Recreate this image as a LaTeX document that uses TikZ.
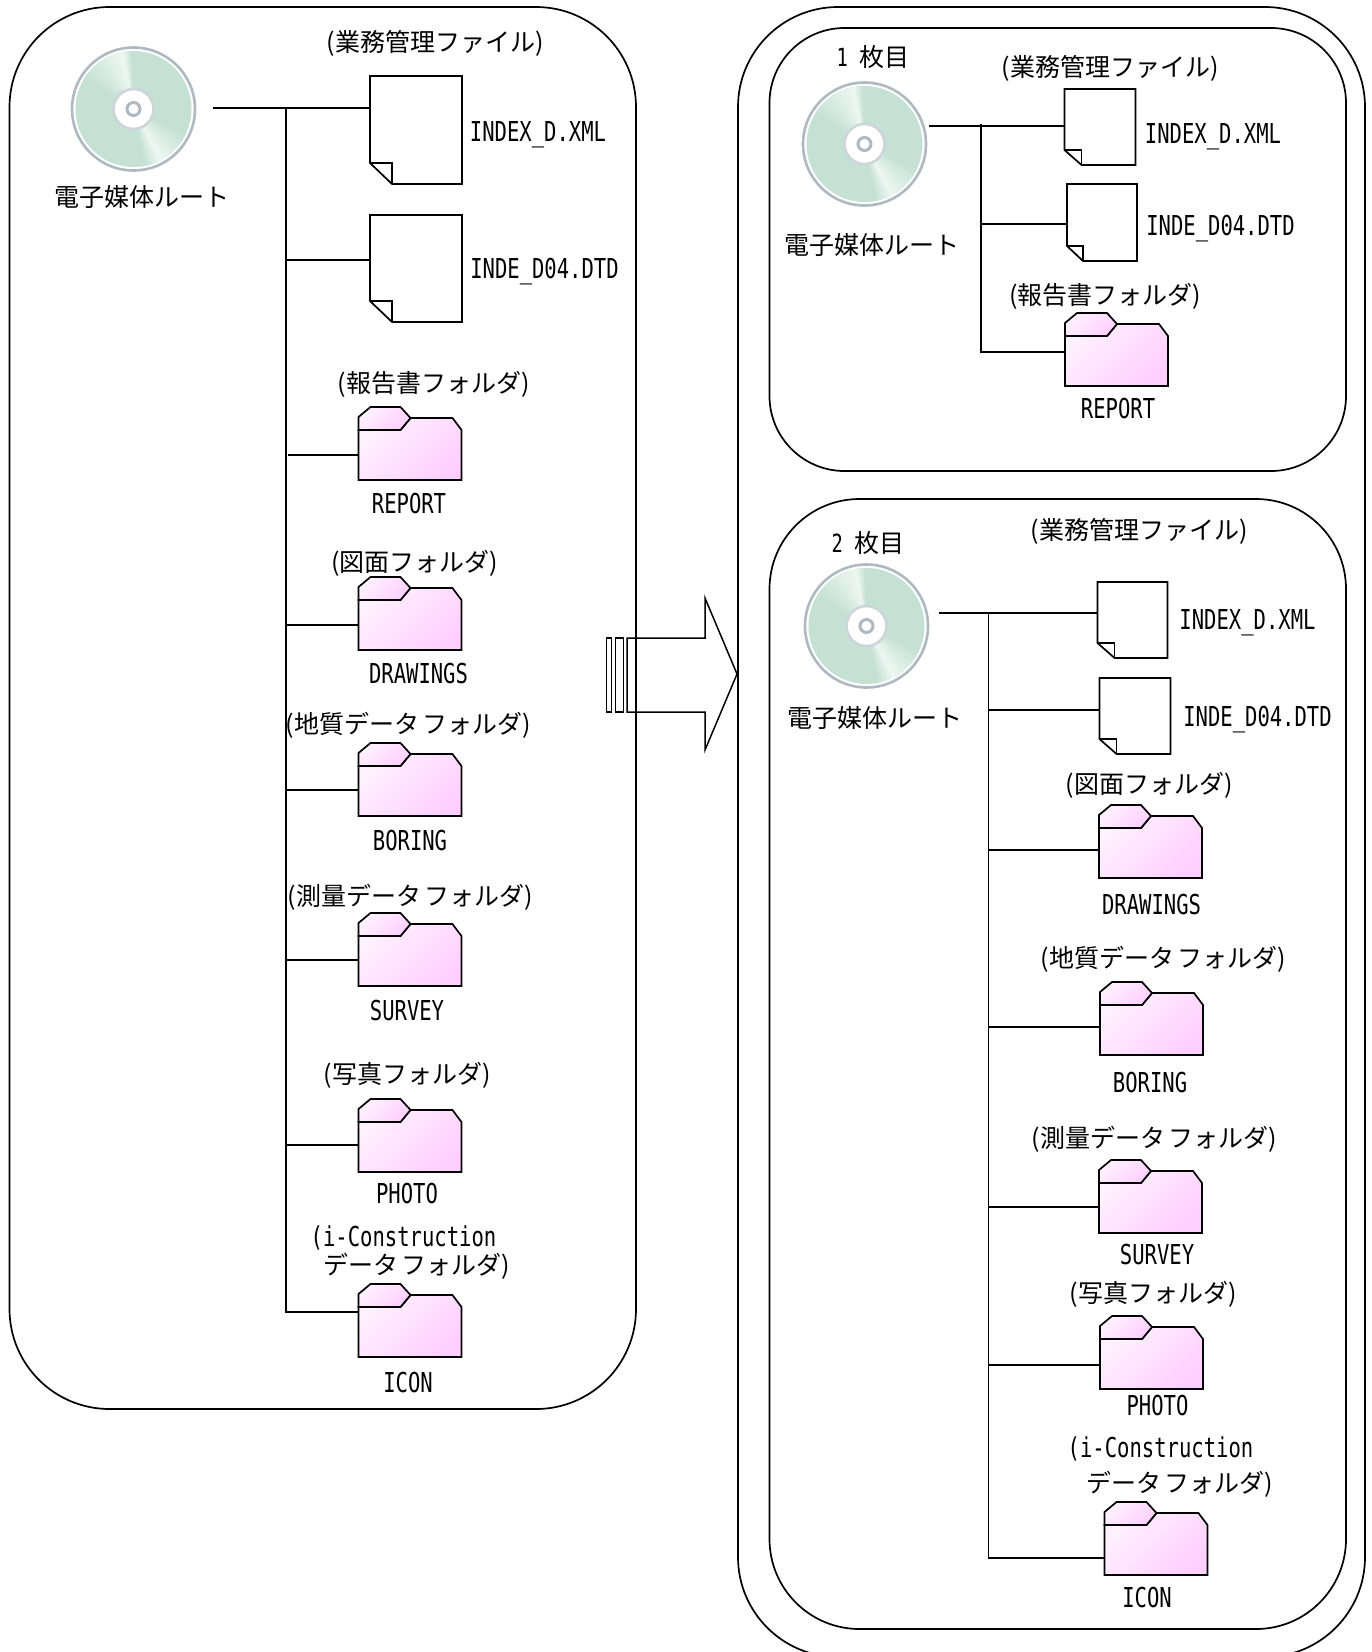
\documentclass[tikz,border=0pt]{standalone}
\usepackage{fontspec}
\newfontfamily\jpfont{Noto Sans CJK JP}
\newfontfamily\latfont[FakeStretch=0.75]{DejaVu Sans Mono}
\definecolor{cdgreen}{HTML}{C4E1D4}
\definecolor{cdrim}{HTML}{AEB9C2}
\definecolor{cdlight}{HTML}{EEF7F3}
\definecolor{folderlight}{HTML}{FFF2FF}
\definecolor{folderpink}{HTML}{FFCFFF}
\tikzset{
  jplabel/.style={inner sep=0pt, text height=18.8pt, text depth=0pt, font=\jpfont\fontsize{25}{30}\selectfont},
  latlabel/.style={inner sep=0pt, text height=20pt, text depth=0pt, font=\latfont\fontsize{27.4}{32}\selectfont},
  panel/.style={draw, line width=1.7pt},
  tree/.style={draw, line width=1.9pt},
  sheet/.style={draw, line width=1.7pt, fill=white},
  foldershade/.style={draw, line width=1.7pt, top color=folderlight, bottom color=folderpink, shading angle=45}
}
% disc: name, centre x, centre y
\newcommand{\cddisc}[3]{
  \begin{scope}[shift={(#2,#3)}]
    \coordinate (#1) at (0,0);
    \draw [cdrim, line width=2.6pt, fill=white] (0,0) circle [radius=61.5];
    \begin{scope}
      \clip (0,0) circle [radius=58];
      \fill [cdgreen] (-60,-60) rectangle (60,60);
      % upper and lower glare
      \foreach \a in {-150,-147,...,-102} {
        \pgfmathtruncatemacro{\p}{(\a+150)*100/48}
        \fill [cdlight!\p!cdgreen] (0,0) -- (\a:70) -- (\a+3.5:70) -- cycle;
      }
      \foreach \a in {-102,-100,...,-92} {
        \pgfmathtruncatemacro{\p}{(-92-\a)*10}
        \fill [cdlight!\p!cdgreen] (0,0) -- (\a:70) -- (\a+2.5:70) -- cycle;
      }
      \foreach \a in {24,27,...,60} {
        \pgfmathtruncatemacro{\p}{(\a-24)*100/36}
        \fill [cdlight!\p!cdgreen] (0,0) -- (\a:70) -- (\a+3.5:70) -- cycle;
      }
      \foreach \a in {60,63,...,78} {
        \pgfmathtruncatemacro{\p}{(78-\a)*100/18}
        \fill [cdlight!\p!cdgreen] (0,0) -- (\a:70) -- (\a+3.5:70) -- cycle;
      }
    \end{scope}
    \draw [cdrim!60, line width=2.6pt, fill=white] (0,0) circle [radius=20];
    \draw [cdrim, line width=3pt, fill=white] (0,0) circle [radius=6.5];
  \end{scope}
}
% sheet: name, left, top, width, height, fold width, fold height
\newcommand{\docsheet}[7]{
  \begin{scope}[shift={(#2,#3)}]
    \coordinate (#1) at (0,0);
    \path [sheet] (0,0) -- (#4,0) -- (#4,#5) -- (#6,#5) -- (0,#5-#7) -- cycle;
    \draw [line width=1.7pt] (0,#5-#7) -- (#6,#5-#7) -- (#6,#5);
  \end{scope}
}
% folder: name, left, top
\newcommand{\foldershape}[3]{
  \begin{scope}[shift={(#2,#3)}]
    \coordinate (#1) at (0,0);
    \path [foldershade] (0,23) -- (42,23) -- (52,11) -- (94,11) -- (103,23) -- (103,73) -- (0,73) -- cycle;
    \path [foldershade] (0,10) -- (12,0) -- (42,0) -- (52,11) -- (42,23) -- (0,23) -- cycle;
  \end{scope}
}
\begin{document}
\begin{tikzpicture}[x=1pt, y=-1pt]
  \clip (0,0) rectangle (1372,1652);
  \fill [white] (0,0) rectangle (1372,1652);

  % panels
  \draw [panel, rounded corners=100pt] (9.5,7) rectangle (636,1409);
  \draw [panel, rounded corners=100pt] (738,7) rectangle (1365,1657);
  \draw [panel, rounded corners=75pt] (769.5,28) rectangle (1346,471);
  \draw [panel, rounded corners=90pt] (769.5,499) rectangle (1346,1629);

  % block arrow
  \draw [line width=1.5pt] (606.5,638) rectangle (611.5,712);
  \draw [line width=1.5pt] (615.5,638) rectangle (623.5,712);
  \draw [line width=1.5pt] (627,638) -- (705,638) -- (705,598) -- (737,674) -- (705,750) -- (705,712) -- (627,712) -- cycle;

  % left panel
  \cddisc{discLeft}{133.5}{109}
  \node [jplabel] (rootLeft) at (142,197) {電子媒体ルート};
  \docsheet{fileLeftA}{370}{76}{92}{108}{22}{21}
  \docsheet{fileLeftB}{370}{215}{92}{107}{22}{21}
  \foldershape{reportLeft}{358.5}{407}
  \foldershape{drawingLeft}{358.5}{577}
  \foldershape{boringLeft}{358.5}{743}
  \foldershape{surveyLeft}{358.5}{913}
  \foldershape{photoLeft}{358.5}{1099}
  \foldershape{iconLeft}{358.5}{1284}

  \coordinate (stubLeft) at (213,108);
  \coordinate (trunkLeft) at (286,108);
  \draw [tree] (stubLeft) -- (fileLeftA |- stubLeft);
  \draw [tree] (trunkLeft) -- (trunkLeft |- 0,1312) -- (iconLeft |- 0,1312);
  \draw [tree] (trunkLeft |- 0,260) -- (fileLeftB |- 0,260);
  \draw [tree] (288,455) -- (reportLeft |- 0,455);
  \draw [tree] (trunkLeft |- 0,625) -- (drawingLeft |- 0,625);
  \draw [tree] (trunkLeft |- 0,790) -- (boringLeft |- 0,790);
  \draw [tree] (trunkLeft |- 0,960) -- (surveyLeft |- 0,960);
  \draw [tree] (trunkLeft |- 0,1145) -- (photoLeft |- 0,1145);

  \node [jplabel] (adminLeft) at (435,42) {(業務管理ファイル)};
  \node [latlabel] (indexLeft) at (538,131) {INDEX\_D.XML};
  \node [latlabel] (dtdLeft) at (544.5,268) {INDE\_D04.DTD};
  \node [jplabel] (reportCapLeft) at (433.5,383) {(報告書フォルダ)};
  \node [latlabel] (reportNameLeft) at (409,503) {REPORT};
  \node [jplabel] (drawingCapLeft) at (414.5,562) {(図面フォルダ)};
  \node [latlabel] (drawingNameLeft) at (418.5,673) {DRAWINGS};
  \node [jplabel] (boringCapLeft) at (408,724) {(地質データ\hspace{3pt}フォルダ)};
  \node [latlabel] (boringNameLeft) at (410,840) {BORING};
  \node [jplabel] (surveyCapLeft) at (410,896) {(測量データ\hspace{3pt}フォルダ)};
  \node [latlabel] (surveyNameLeft) at (407,1010) {SURVEY};
  \node [jplabel] (photoCapLeft) at (407,1074) {(写真フォルダ)};
  \node [latlabel] (photoNameLeft) at (407,1193) {PHOTO};
  \node [latlabel] (iconCapLeft) at (403.5,1236) {(i-Construction};
  \node [jplabel] (iconDataLeft) at (417,1265) {データ\hspace{3pt}フォルダ)};
  \node [latlabel] (iconNameLeft) at (408,1382) {ICON};

  % first disc
  \node [jplabel] (firstTitle) at (873,57) {{\latfont 1\ }枚目};
  \cddisc{discFirst}{864.5}{144}
  \node [jplabel] (rootFirst) at (872,245) {電子媒体ルート};
  \docsheet{fileFirstA}{1064.5}{89}{71}{76}{17}{15}
  \docsheet{fileFirstB}{1067}{184}{70}{77}{16}{15}
  \foldershape{reportFirst}{1065}{313}

  \coordinate (stubFirst) at (929,126);
  \coordinate (trunkFirst) at (981,124);
  \draw [tree] (stubFirst) -- (fileFirstA |- stubFirst);
  \draw [tree] (trunkFirst) -- (trunkFirst |- 0,352) -- (reportFirst |- 0,352);
  \draw [tree] (trunkFirst |- 0,224) -- (fileFirstB |- 0,224);

  \node [jplabel] (adminFirst) at (1110,67) {(業務管理ファイル)};
  \node [latlabel] (indexFirst) at (1213,133) {INDEX\_D.XML};
  \node [latlabel] (dtdFirst) at (1220.5,225) {INDE\_D04.DTD};
  \node [jplabel] (reportCapFirst) at (1105,295) {(報告書フォルダ)};
  \node [latlabel] (reportNameFirst) at (1118,408) {REPORT};

  % second disc
  \node [jplabel] (secondTitle) at (868,543) {{\latfont 2\ }枚目};
  \cddisc{discSecond}{866.5}{626}
  \node [jplabel] (rootSecond) at (875,718) {電子媒体ルート};
  \docsheet{fileSecondA}{1097.5}{582}{70}{76}{17}{15}
  \docsheet{fileSecondB}{1099.5}{678}{71}{76}{17}{15}
  \foldershape{drawingSecond}{1099}{805}
  \foldershape{boringSecond}{1100}{982}
  \foldershape{surveySecond}{1099}{1160}
  \foldershape{photoSecond}{1100}{1316}
  \foldershape{iconSecond}{1104.5}{1502}

  \coordinate (stubSecond) at (939,613);
  \coordinate (trunkSecond) at (988.5,613);
  \draw [tree] (stubSecond) -- (fileSecondA |- stubSecond);
  \draw [tree] (trunkSecond) -- (trunkSecond |- 0,1558) -- (iconSecond |- 0,1558);
  \draw [tree] (trunkSecond |- 0,710) -- (fileSecondB |- 0,710);
  \draw [tree] (trunkSecond |- 0,850) -- (drawingSecond |- 0,850);
  \draw [tree] (trunkSecond |- 0,1027) -- (boringSecond |- 0,1027);
  \draw [tree] (trunkSecond |- 0,1207) -- (surveySecond |- 0,1207);
  \draw [tree] (trunkSecond |- 0,1365) -- (photoSecond |- 0,1365);

  \node [jplabel] (adminSecond) at (1139,530) {(業務管理ファイル)};
  \node [latlabel] (indexSecond) at (1247.5,619) {INDEX\_D.XML};
  \node [latlabel] (dtdSecond) at (1257.5,716) {INDE\_D04.DTD};
  \node [jplabel] (drawingCapSecond) at (1149,784) {(図面フォルダ)};
  \node [latlabel] (drawingNameSecond) at (1151.5,904) {DRAWINGS};
  \node [jplabel] (boringCapSecond) at (1163,958) {(地質データ\hspace{3pt}フォルダ)};
  \node [latlabel] (boringNameSecond) at (1150,1082) {BORING};
  \node [jplabel] (surveyCapSecond) at (1154,1138) {(測量データ\hspace{3pt}フォルダ)};
  \node [latlabel] (surveyNameSecond) at (1157,1254) {SURVEY};
  \node [jplabel] (photoCapSecond) at (1153,1293) {(写真フォルダ)};
  \node [latlabel] (photoNameSecond) at (1157.5,1405) {PHOTO};
  \node [latlabel] (iconCapSecond) at (1160.5,1447) {(i-Construction};
  \node [jplabel] (iconDataSecond) at (1180,1483) {データ\hspace{3pt}フォルダ)};
  \node [latlabel] (iconNameSecond) at (1147,1597) {ICON};
\end{tikzpicture}
\end{document}
